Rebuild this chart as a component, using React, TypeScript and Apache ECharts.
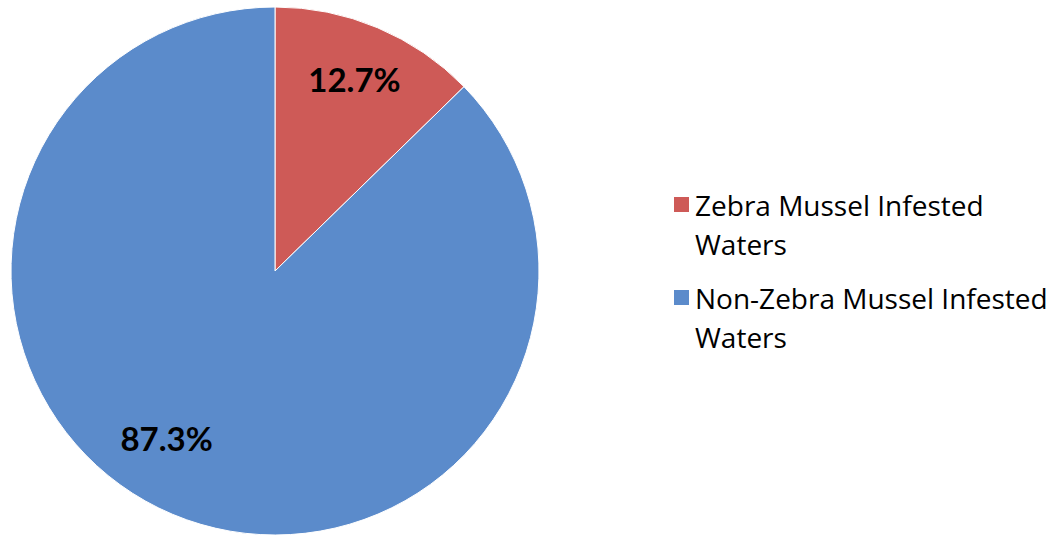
import React, { useEffect, useRef } from "react";
import * as echarts from "echarts";

const categories = ["Zebra Mussel Infested Waters", "Non-Zebra Mussel Infested Waters"];
const legendLabels = ["Zebra Mussel Infested\nWaters", "Non-Zebra Mussel Infested\nWaters"];
const values = [12.7, 87.3];
const colors = ["#CE5A57", "#5B8BCB"];
const labelOffsets = [[27, -68], [-56, 43]];

export default function App() {
  const ref = useRef<HTMLDivElement>(null);
  useEffect(() => {
    document.body.style.margin = "0";
    const chart = echarts.init(ref.current!, null, { renderer: "svg" });
    chart.setOption({
      animation: false,
      backgroundColor: "#ffffff",
      legend: {
        orient: "vertical",
        left: 672,
        top: 146,
        padding: 0,
        itemWidth: 17,
        itemHeight: 17,
        itemGap: -24,
        icon: "rect",
        formatter: (name: string) => "\n" + legendLabels[categories.indexOf(name)],
        textStyle: {
          fontFamily: "Open Sans",
          fontSize: 28,
          color: "#000",
          lineHeight: 39,
        },
        data: categories,
      },
      series: [
        {
          type: "pie",
          center: [275, 271],
          radius: 264,
          startAngle: 90,
          clockwise: true,
          itemStyle: { borderColor: "#ffffff", borderWidth: 1 },
          labelLine: { show: false },
          label: {
            show: true,
            position: "inside",
            formatter: (p: any) => p.value.toFixed(1) + "%",
            fontFamily: "Lato",
            fontWeight: "bold",
            fontSize: 33,
            color: "#000",
          },
          data: categories.map((c, i) => ({
            name: c,
            value: values[i],
            itemStyle: { color: colors[i] },
            label: { offset: labelOffsets[i] },
          })),
        },
      ],
    });
    return () => chart.dispose();
  }, []);
  return <div ref={ref} style={{ width: 1054, height: 535 }} />;
}
